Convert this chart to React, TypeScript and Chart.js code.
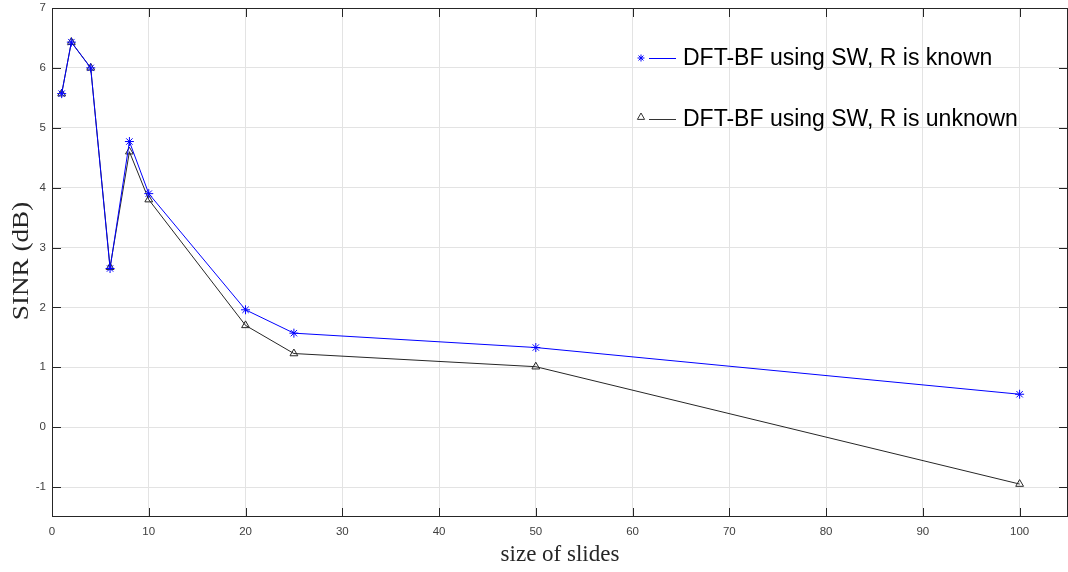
import React, { useEffect, useRef } from "react";
import { Chart, registerables } from "chart.js";

Chart.register(...registerables);

const xValues = [1, 2, 4, 6, 8, 10, 20, 25, 50, 100];
const knownSINR = [5.57, 6.43, 6.0, 2.65, 4.77, 3.9, 1.96, 1.57, 1.33, 0.55];
const unknownSINR = [5.57, 6.43, 6.0, 2.67, 4.6, 3.8, 1.7, 1.23, 1.01, -0.95];
const seriesLabels = ["DFT-BF using SW, R is known", "DFT-BF using SW, R is unknown"];
const xTicks = [0, 10, 20, 30, 40, 50, 60, 70, 80, 90, 100];
const yTicks = [-1, 0, 1, 2, 3, 4, 5, 6, 7];
const xTitle = "size of slides";
const yTitle = "SINR (dB)";

function drawStar(ctx: CanvasRenderingContext2D, x: number, y: number, r: number) {
  ctx.beginPath();
  for (let k = 0; k < 4; k++) {
    const a = (k * Math.PI) / 4;
    ctx.moveTo(x - r * Math.cos(a), y - r * Math.sin(a));
    ctx.lineTo(x + r * Math.cos(a), y + r * Math.sin(a));
  }
  ctx.stroke();
}

function drawTriangle(ctx: CanvasRenderingContext2D, x: number, y: number, r: number) {
  ctx.beginPath();
  ctx.moveTo(x, y - r);
  ctx.lineTo(x + r * 0.9, y + r * 0.6);
  ctx.lineTo(x - r * 0.9, y + r * 0.6);
  ctx.closePath();
  ctx.stroke();
}

const boxPlugin = {
  id: "matlabBox",
  afterDraw(chart: any) {
    const { ctx, chartArea: a, scales } = chart;
    ctx.save();
    ctx.strokeStyle = "#262626";
    ctx.lineWidth = 1;
    ctx.strokeRect(a.left + 0.5, a.top + 0.5, a.right - a.left - 1, a.bottom - a.top - 1);
    const tl = 9;
    ctx.beginPath();
    for (const v of xTicks) {
      const x = Math.round(scales.x.getPixelForValue(v)) + 0.5;
      ctx.moveTo(x, a.bottom);
      ctx.lineTo(x, a.bottom - tl);
      ctx.moveTo(x, a.top);
      ctx.lineTo(x, a.top + tl);
    }
    for (const v of yTicks) {
      const y = Math.round(scales.y.getPixelForValue(v)) + 0.5;
      ctx.moveTo(a.left, y);
      ctx.lineTo(a.left + tl, y);
      ctx.moveTo(a.right, y);
      ctx.lineTo(a.right - tl, y);
    }
    ctx.stroke();

    // axis titles
    ctx.fillStyle = "#262626";
    ctx.textAlign = "center";
    ctx.textBaseline = "middle";
    ctx.font = "23px 'Liberation Serif', serif";
    ctx.fillText(xTitle, (a.left + a.right) / 2, 555);
    ctx.save();
    ctx.translate(22, 261);
    ctx.rotate(-Math.PI / 2);
    ctx.scale(1.18, 1);
    ctx.fillText(yTitle, 0, 0);
    ctx.restore();

    // legend
    const items = [
      { color: "#0000ff", style: "star", y: 58, label: seriesLabels[0] },
      { color: "#333333", style: "triangle", y: 119, label: seriesLabels[1] },
    ];
    ctx.font = "23px 'Liberation Sans', Arial, sans-serif";
    ctx.textBaseline = "middle";
    ctx.textAlign = "left";
    for (const it of items) {
      ctx.strokeStyle = it.color;
      ctx.lineWidth = 1;
      ctx.beginPath();
      ctx.moveTo(649, it.y + 0.5);
      ctx.lineTo(676, it.y + 0.5);
      ctx.stroke();
      if (it.style === "star") drawStar(ctx, 641, it.y, 3.5);
      else drawTriangle(ctx, 641, it.y - 2, 4);
      ctx.fillStyle = "#000";
      ctx.fillText(it.label, 683, it.y + 1);
    }
    ctx.restore();
  },
};

export default function App() {
  const ref = useRef<HTMLCanvasElement>(null);
  useEffect(() => {
    document.body.style.margin = "0";
    const chart = new Chart(ref.current!, {
      type: "line",
      data: {
        datasets: [
          {
            label: seriesLabels[0],
            data: xValues.map((x, i) => ({ x, y: knownSINR[i] })),
            borderColor: "#0000ff",
            backgroundColor: "#0000ff",
            borderWidth: 1,
            pointStyle: "star",
            pointRadius: 4.5,
            pointBorderWidth: 1,
            pointBorderColor: "#0000ff",
          },
          {
            label: seriesLabels[1],
            data: xValues.map((x, i) => ({ x, y: unknownSINR[i] })),
            borderColor: "#262626",
            backgroundColor: "rgba(0,0,0,0)",
            borderWidth: 1,
            pointStyle: "triangle",
            pointRadius: 4.5,
            pointBorderWidth: 1,
            pointBorderColor: "#262626",
          },
        ],
      },
      options: {
        animation: false,
        responsive: false,
        maintainAspectRatio: false,
        layout: { autoPadding: false, padding: { top: 8, right: 0, left: 0, bottom: 0 } },
        plugins: { legend: { display: false }, tooltip: { enabled: false } },
        scales: {
          x: {
            type: "linear",
            min: 0,
            max: 105,
            afterBuildTicks: (s: any) => {
              s.ticks = xTicks.map((v) => ({ value: v }));
            },
            afterFit: (s: any) => {
              s.height = 55;
              s.paddingLeft = 0;
              s.paddingRight = 0;
            },
            grid: { color: "#e3e3e3", drawTicks: false },
            border: { display: false },
            ticks: {
              padding: 8,
              color: "#404040",
              font: { family: "'Liberation Sans', Arial, sans-serif", size: 11.5 },
              maxRotation: 0,
            },
          },
          y: {
            type: "linear",
            min: -1.5,
            max: 7,
            afterBuildTicks: (s: any) => {
              s.ticks = yTicks.map((v) => ({ value: v }));
            },
            afterFit: (s: any) => {
              s.width = 52;
              s.paddingTop = 0;
              s.paddingBottom = 0;
            },
            grid: { color: "#e3e3e3", drawTicks: false },
            border: { display: false },
            ticks: {
              padding: 6,
              color: "#404040",
              font: { family: "'Liberation Sans', Arial, sans-serif", size: 11.5 },
            },
          },
        },
      },
      plugins: [boxPlugin],
    });
    return () => chart.destroy();
  }, []);
  return (
    <div style={{ position: "absolute", left: 0, top: 0, width: 1068, height: 572 }}>
      <canvas ref={ref} width={1068} height={572} />
    </div>
  );
}
